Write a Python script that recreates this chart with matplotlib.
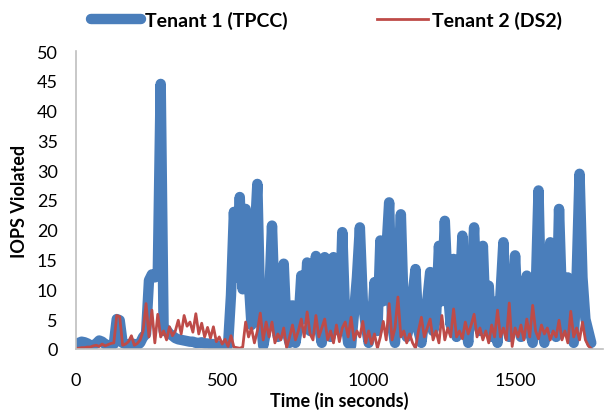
import numpy as np
import matplotlib
matplotlib.use("Agg")
import matplotlib.pyplot as plt

# IOPS violations, sampled every 10 s
tenant1_tpcc = [
    0.8, 1.0, 1.2, 1.1, 0.9, 0.6, 0.6, 0.9, 1.4, 1.2,
    0.8, 0.6, 0.6, 0.8, 5.0, 4.8, 1.0, 0.8, 0.7, 0.9,
    0.8, 0.6, 1.0, 2.0, 2.5, 11.5, 12.5, 12.0, 12.5, 44.5,
    3.0, 3.2, 2.5, 2.2, 1.8, 1.6, 1.5, 1.4, 1.3, 1.2,
    1.2, 1.0, 1.0, 1.1, 0.9, 0.9, 0.8, 0.8, 0.6, 0.5,
    0.5, 0.4, 0.6, 9.0, 23.0, 12.0, 25.5, 10.0, 23.5, 12.0,
    4.0, 18.0, 27.7, 6.0, 0.5, 3.0, 8.0, 20.7, 6.0, 2.0,
    5.0, 14.3, 3.0, 1.0, 7.3, 1.0, 4.0, 12.3, 5.0, 14.5,
    3.0, 8.0, 15.6, 4.0, 1.0, 15.4, 5.0, 2.0, 15.4, 6.0,
    3.0, 19.6, 5.0, 1.0, 0.5, 6.0, 12.0, 20.4, 8.0, 4.0,
    1.0, 3.0, 11.2, 3.0, 18.2, 8.0, 16.0, 24.6, 4.0, 1.0,
    12.0, 22.6, 6.0, 2.0, 4.0, 9.0, 13.4, 3.0, 1.0, 5.0,
    8.0, 12.9, 3.0, 5.0, 17.3, 8.0, 21.5, 10.0, 4.0, 15.1,
    2.0, 8.0, 19.0, 5.0, 1.0, 10.0, 20.4, 6.0, 3.0, 17.3,
    4.0, 10.6, 2.0, 7.9, 1.0, 9.0, 17.9, 6.0, 2.0, 4.0,
    15.7, 5.0, 2.0, 6.0, 12.3, 3.0, 1.0, 9.0, 26.6, 4.0,
    1.0, 10.0, 17.9, 5.0, 2.0, 23.5, 8.0, 3.0, 12.0, 4.0,
    1.0, 12.0, 29.4, 12.0, 5.0, 3.0, 1.0,
]

tenant2_ds2 = [
    0.1, 0.1, 0.2, 0.2, 0.3, 0.3, 0.5, 0.6, 0.4, 0.8,
    0.5, 0.7, 0.9, 1.0, 5.6, 5.4, 0.6, 0.8, 1.2, 2.2,
    0.6, 0.9, 1.5, 3.0, 7.6, 2.0, 6.5, 1.0, 5.8, 2.0,
    3.0, 1.5, 3.7, 2.2, 3.0, 4.8, 2.5, 5.6, 3.8, 4.5,
    2.8, 5.9, 2.5, 4.3, 2.0, 3.6, 1.8, 3.7, 1.2, 2.0,
    0.8, 1.6, 0.4, 2.2, 0.3, 0.2, 0.1, 0.3, 4.5, 2.0,
    3.5, 1.0, 3.0, 6.0, 1.5, 4.5, 2.0, 4.5, 1.0, 2.5,
    1.5, 3.5, 0.2, 2.0, 4.0, 1.5, 3.0, 5.0, 2.0, 6.2,
    2.5, 1.5, 5.6, 2.0, 3.5, 5.0, 1.5, 3.0, 1.0, 4.0,
    1.2, 3.5, 4.5, 2.0, 5.3, 1.5, 3.0, 2.0, 4.6, 1.0,
    3.0, 0.8, 2.5, 0.1, 2.0, 4.6, 1.5, 7.6, 1.5, 3.5,
    8.7, 2.0, 3.0, 1.0, 2.5, 1.0, 0.1, 3.0, 5.3, 2.0,
    3.5, 5.0, 1.5, 3.0, 1.0, 5.6, 1.5, 3.5, 2.0, 6.7,
    2.0, 3.0, 1.7, 4.5, 2.5, 4.0, 5.8, 2.0, 3.5, 1.5,
    3.0, 1.0, 4.0, 2.0, 6.5, 2.0, 3.5, 1.5, 7.7, 0.4,
    3.5, 2.0, 4.0, 1.5, 5.0, 2.0, 7.3, 3.0, 1.7, 4.0,
    2.5, 3.5, 1.5, 3.0, 2.0, 4.8, 1.5, 3.0, 1.0, 6.3,
    2.0, 3.5, 1.5, 4.5, 1.5, 0.5, 0.0,
]

time1 = np.arange(len(tenant1_tpcc)) * 10
time2 = np.arange(len(tenant2_ds2)) * 10

x_ticks = [0, 500, 1000, 1500]
y_ticks = np.arange(0, 51, 5)

plt.rcParams['font.family'] = ['Lato', 'DejaVu Sans']

fig = plt.figure(figsize=(6.06, 4.14), dpi=100)
ax = fig.add_axes([0.125, 0.155, 0.87, 0.719])

ax.plot(time1, tenant1_tpcc, color='#4A7EBB', lw=7.5, solid_capstyle='round',
        solid_joinstyle='round', label='Tenant 1 (TPCC)')
ax.plot(time2, tenant2_ds2, color='#BE4B48', lw=2, label='Tenant 2 (DS2)')

ax.set_xlim(0, 1800)
ax.set_ylim(0, 50)
ax.set_xticks(x_ticks)
ax.set_yticks(y_ticks)
ax.tick_params(length=0, labelsize=13)
ax.tick_params(axis='x', pad=17)
ax.tick_params(axis='y', pad=13)

for side in ['top', 'right']:
    ax.spines[side].set_visible(False)
for side in ['left', 'bottom']:
    ax.spines[side].set_color('#BFBFBF')
    ax.spines[side].set_linewidth(1.2)

ax.set_xlabel('Time (in seconds)', fontsize=13, fontweight='bold', labelpad=2)
ax.set_ylabel('IOPS Violated', fontsize=13, fontweight='bold', labelpad=6)

leg = ax.legend(loc='lower center', bbox_to_anchor=(0.475, 1.015), ncol=2,
                frameon=False, fontsize=14, handlelength=2.6,
                handletextpad=0.2, columnspacing=4.6)
for t in leg.get_texts():
    t.set_fontweight('bold')

fig.savefig('out.png', dpi=100)
